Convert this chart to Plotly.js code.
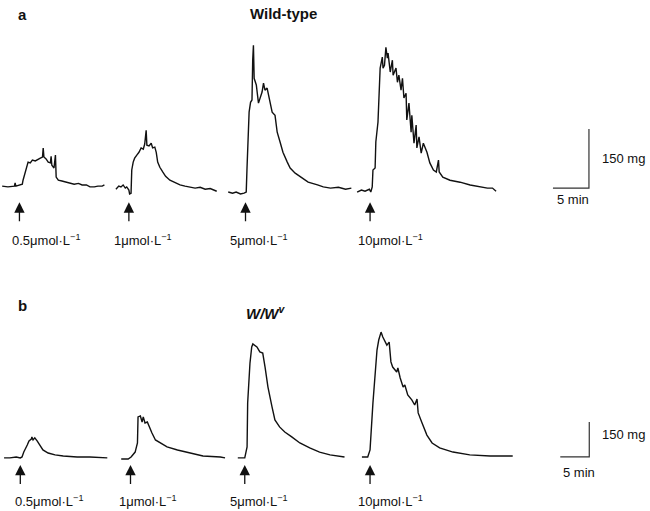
<!DOCTYPE html>
<html>
<head>
<meta charset="utf-8">
<script src="https://cdn.plot.ly/plotly-3.0.1.min.js"></script>
<style>
  body { margin: 0; background: #fff; }
  #myDiv { width: 650px; height: 511px; }
</style>
</head>
<body>
<div id="myDiv"></div>
<script>
// doses, one trace per dose in each panel
var doseLabels = ["0.5\u03bcmol\u00b7L<sup>\u22121</sup>", "1\u03bcmol\u00b7L<sup>\u22121</sup>",
                  "5\u03bcmol\u00b7L<sup>\u22121</sup>", "10\u03bcmol\u00b7L<sup>\u22121</sup>"];

/**************************************************************/
// panel a: wild-type, time (min) from start of each recording, tension (mg)
var segStartA = [0.3, 16.1, 31.7, 49.6];
var doseTimeA = [2.4, 1.8, 2.4, 1.8];
var labelPosA = [1.4, 15.6, 31.7, 49.4];

var tA1 = [0, 0.8, 1.7, 1.8, 1.9, 2.5, 2.8, 2.9, 3.2, 3.5, 3.6, 3.9, 4.2, 4.6, 5.0, 5.3, 5.6, 5.7, 5.8,
           6.1, 6.4, 6.7, 6.8, 6.9, 7.2, 7.4, 7.5, 7.8, 8.3, 8.9, 9.4, 10.0, 10.6, 11.1, 11.7, 12.2,
           12.8, 13.3, 13.9, 14.2];
var fA1 = [5, 3, 5, 13, 5, 8, 10, 20, 41, 56, 66, 64, 71, 69, 74, 76, 79, 102, 79,
           74, 66, 64, 81, 58, 51, 84, 28, 20, 18, 15, 13, 10, 12, 8, 8, 3,
           3, 5, 5, 8];

var tA2 = [0, 0.4, 0.7, 1.0, 1.3, 1.5, 1.8, 1.9, 2.1, 2.2, 2.4, 2.6, 2.9, 3.2, 3.5, 3.8, 4.0, 4.2, 4.3,
           4.6, 4.9, 5.1, 5.4, 5.6, 5.8, 6.1, 6.5, 6.9, 7.5, 8.2, 8.9, 9.6, 10.3, 11.0, 11.7, 12.4,
           13.1, 13.6, 14.0];
var fA2 = [-3, 5, 3, 8, 0, 3, -5, -15, -13, 46, 66, 76, 84, 91, 102, 99, 112, 147, 109,
           107, 114, 102, 104, 91, 66, 53, 41, 30, 20, 13, 8, 5, 3, 0, 2, -3,
           -1, -5, -8];

var tA3 = [0, 0.6, 1.1, 1.7, 2.2, 2.5, 2.6, 2.7, 2.9, 3.1, 3.3, 3.4, 3.5, 3.6, 3.9, 4.2, 4.4, 4.7, 4.9,
           5.1, 5.4, 5.7, 6.1, 6.5, 6.8, 7.2, 7.6, 8.2, 8.6, 9.3, 10.3, 11.1, 12.4, 13.2, 14.2, 15.3,
           16.3, 17.1];
var fA3 = [-10, -13, -10, -15, -13, -10, 46, 109, 193, 218, 224, 325, 363, 279, 262, 216, 229, 244, 267,
           249, 254, 231, 193, 185, 142, 117, 91, 66, 51, 38, 25, 15, 8, 3, 0, 2,
           -3, 0];

var tA4 = [0, 0.6, 1.1, 1.7, 1.9, 2.1, 2.2, 2.5, 2.6, 2.9, 3.2, 3.5, 3.6, 3.8, 4.0, 4.2, 4.3, 4.6, 4.9,
           5.0, 5.4, 5.6, 5.8, 6.1, 6.3, 6.5, 6.8, 6.9, 7.2, 7.5, 7.6, 7.9, 8.2, 8.3, 8.6, 8.9,
           9.2, 9.7, 10.1, 10.6, 11.0, 11.3, 11.4, 11.9, 12.9, 14.3, 15.7, 17.1, 18.1, 18.8, 19.3];
var fA4 = [-10, -5, -8, -3, -10, 3, 46, 51, 117, 168, 305, 333, 305, 312, 358, 330, 343, 295, 325,
           287, 305, 269, 287, 249, 279, 229, 241, 173, 216, 142, 185, 114, 160, 102, 130, 89,
           114, 91, 64, 46, 41, 71, 41, 28, 20, 15, 8, 3, 0, 0, -8];

/**************************************************************/
// panel b: W/Wv
var segStartB = [0.7, 20.9, 41.0, 62.4];
var doseTimeB = [2.8, 1.6, 1.2, 1.4];
var labelPosB = [2.2, 20.2, 39.3, 61.4];

var tB1 = [0, 1.0, 2.1, 2.8, 3.1, 3.4, 4.0, 4.3, 4.7, 4.8, 5.0, 5.3, 5.7, 6.2, 6.7, 7.6, 8.8, 10.2,
           12.6, 14.8, 17.8];
var fB1 = [-4, -4, 0, -4, 0, 21, 51, 69, 77, 86, 73, 82, 69, 51, 30, 17, 9, 4,
           0, 0, -4];

var tB2 = [0, 1.2, 1.7, 2.1, 2.4, 2.8, 2.9, 3.3, 3.6, 3.8, 4.1, 4.5, 4.8, 5.3, 5.9, 6.7, 7.9, 9.7,
           11.9, 14.1, 17.1, 17.9];
var fB2 = [-9, -9, 0, 13, 21, 60, 172, 176, 150, 172, 146, 150, 129, 103, 73, 60, 43, 30,
           17, 4, 0, -4];

var tB3 = [0, 1.2, 1.6, 1.7, 2.1, 2.4, 2.6, 3.3, 3.8, 4.3, 4.7, 5.2, 5.9, 6.4, 7.2, 8.1, 9.3, 10.7,
           12.4, 14.1, 15.9, 17.6, 18.4];
var fB3 = [-4, -4, 43, 232, 403, 472, 485, 472, 451, 446, 386, 300, 215, 159, 129, 107, 86, 60,
           39, 21, 9, 4, 0];

var tB4 = [0, 1.0, 1.4, 1.9, 2.6, 2.9, 3.3, 3.6, 4.3, 4.7, 5.0, 5.3, 6.0, 6.2, 6.6, 7.1, 7.4, 7.9,
           8.6, 9.1, 9.5, 9.7, 10.3, 11.2, 12.1, 13.4, 15.7, 18.6, 22.1, 26.0];
var fB4 = [0, 0, 30, 232, 459, 502, 536, 515, 480, 493, 408, 386, 365, 382, 339, 300, 309, 266,
           245, 223, 249, 189, 150, 94, 60, 39, 21, 9, 4, 4];

// calibration bars
var scaleMin = 5;
var scaleMg = 150;
var scaleEndA = 81.8;
var scaleEndB = 101.6;

/**************************************************************/
var lineColor = '#111';
var fontFam = '"Liberation Sans", Arial, sans-serif';

function shift(arr, off) {
  var ret = [];
  for (var i = 0; i < arr.length; i++) ret.push(arr[i] + off);
  return ret;
}

function makeTrace(t, f, start, xa, ya) {
  return { x: shift(t, start), y: f, mode: 'lines', type: 'scatter',
           xaxis: xa, yaxis: ya, hoverinfo: 'none', showlegend: false,
           line: { color: lineColor, width: 1.4 } };
}

function makeScale(xend, xa, ya) {
  return { x: [xend - scaleMin, xend, xend], y: [0, 0, scaleMg], mode: 'lines', type: 'scatter',
           xaxis: xa, yaxis: ya, hoverinfo: 'none', showlegend: false,
           line: { color: '#333', width: 1.2 } };
}

var segsA = [[tA1, fA1], [tA2, fA2], [tA3, fA3], [tA4, fA4]];
var segsB = [[tB1, fB1], [tB2, fB2], [tB3, fB3], [tB4, fB4]];

var data = [];
for (var i = 0; i < 4; i++) {
  data.push(makeTrace(segsA[i][0], segsA[i][1], segStartA[i], 'x', 'y'));
  data.push(makeTrace(segsB[i][0], segsB[i][1], segStartB[i], 'x2', 'y2'));
}
data.push(makeScale(scaleEndA, 'x', 'y'));
data.push(makeScale(scaleEndB, 'x2', 'y2'));

var annots = [];
function addArrow(xv, xr, yr, ytip, ytail) {
  annots.push({ x: xv, y: ytip, ax: xv, ay: ytail, xref: xr, yref: yr, axref: xr, ayref: yr,
                text: '', showarrow: true, arrowhead: 2, arrowsize: 1.6, arrowwidth: 1.3,
                arrowcolor: lineColor });
}
function addText(txt, xv, yv, xr, yr, anchor, size, bold) {
  annots.push({ x: xv, y: yv, xref: xr, yref: yr, text: txt, showarrow: false,
                xanchor: anchor, yanchor: 'middle',
                font: { family: fontFam, size: size, color: '#111', weight: bold ? 'bold' : 'normal' } });
}

for (var i = 0; i < 4; i++) {
  addArrow(segStartA[i] + doseTimeA[i], 'x', 'y', -36, -88);
  addText(doseLabels[i], labelPosA[i], -132, 'x', 'y', 'left', 13, false);
  addArrow(segStartB[i] + doseTimeB[i], 'x2', 'y2', -34, -122);
  addText(doseLabels[i], labelPosB[i], -189, 'x2', 'y2', 'left', 13, false);
}
addText('150 mg', scaleEndA + 1.5, 75, 'x', 'y', 'left', 13, false);
addText('5 min', scaleEndA - 4.7, -30, 'x', 'y', 'left', 13, false);
addText('150 mg', scaleEndB + 1.9, 95, 'x2', 'y2', 'left', 13, false);
addText('5 min', scaleEndB - 4.8, -65, 'x2', 'y2', 'left', 13, false);

addText('a', 0.025, 0.972, 'paper', 'paper', 'left', 15, true);
addText('Wild-type', 0.436, 0.974, 'paper', 'paper', 'center', 15, true);
addText('b', 0.025, 0.403, 'paper', 'paper', 'left', 15, true);
addText('<i>W/W<sup>v</sup></i>', 0.408, 0.388, 'paper', 'paper', 'center', 15, true);

var hidden = { visible: false, fixedrange: true };
var layout = {
  width: 650, height: 511,
  margin: { l: 0, r: 0, t: 0, b: 0 },
  paper_bgcolor: '#fff', plot_bgcolor: '#fff',
  showlegend: false,
  xaxis: Object.assign({ range: [0, 90.28], domain: [0, 1], anchor: 'y' }, hidden),
  yaxis: Object.assign({ range: [-170, 478], domain: [0.501, 1], anchor: 'x' }, hidden),
  xaxis2: Object.assign({ range: [0, 112.07], domain: [0, 1], anchor: 'y2' }, hidden),
  yaxis2: Object.assign({ range: [-232, 781], domain: [0, 0.4618], anchor: 'x2' }, hidden),
  annotations: annots
};

Plotly.newPlot('myDiv', data, layout, { displayModeBar: false, staticPlot: true });
</script>
</body>
</html>
